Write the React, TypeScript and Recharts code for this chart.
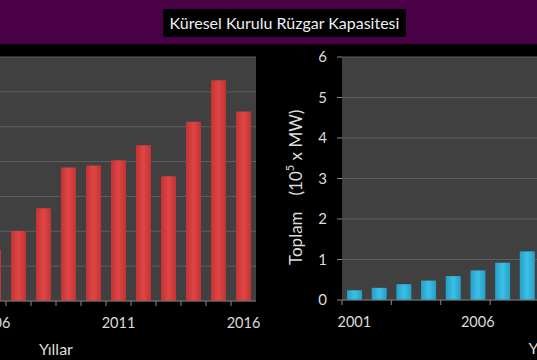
import { BarChart, Bar, XAxis, YAxis, CartesianGrid } from "recharts";

const years = [2001, 2002, 2003, 2004, 2005, 2006, 2007, 2008, 2009, 2010, 2011, 2012, 2013, 2014, 2015, 2016];
// yearly additions (GW) - left panel
const annualAdded = [6.5, 7.3, 8.1, 8.2, 11.5, 14.6, 20.1, 26.6, 38.3, 38.9, 40.4, 44.7, 35.8, 51.4, 63.3, 54.4];
// cumulative (10^5 MW) - right panel
const totalCapacity = [0.24, 0.3, 0.39, 0.48, 0.59, 0.73, 0.92, 1.2, 1.59, 1.98, 2.38, 2.83, 3.18, 3.7, 4.33, 4.87];
const leftTicks = [0, 10, 20, 30, 40, 50, 60, 70];
const rightTicks = [0, 1, 2, 3, 4, 5, 6];

const annualData = years.map((year, i) => ({ year, value: annualAdded[i] }));
const totalData = years.map((year, i) => ({ year, value: totalCapacity[i] }));

const FONT = "Lato, 'Open Sans', sans-serif";
const TEXT = "#dcdcdc";

function makeTick(band: number, everyOther: boolean) {
  return (props: any) => {
    const { x, y, payload, index } = props;
    const showLine = !everyOther || index % 2 === 0;
    return (
      <g>
        {showLine && (
          <line x1={x - band / 2} x2={x - band / 2} y1={y} y2={y + 5} stroke="#8a8a8a" />
        )}
        {payload.value % 5 === 1 && (
          <text x={x} y={y + 21} textAnchor="middle" dominantBaseline="central" fill={TEXT} fontSize={14.5} fontFamily={FONT}>
            {payload.value}
          </text>
        )}
      </g>
    );
  };
}

const YLabel = () => (
  <text
    transform="translate(25,221) rotate(-90)"
    textAnchor="start"
    dominantBaseline="central"
    fill={TEXT}
    fontSize={17}
    fontFamily={FONT}
  >
    Toplam
    <tspan dx={16}>(10</tspan>
    <tspan dy={-6} fontSize={11}>5</tspan>
    <tspan dy={6}> x MW)</tspan>
  </text>
);

export default function App() {
  return (
    <div
      style={{
        position: "fixed",
        left: 0,
        top: 0,
        width: 537,
        height: 360,
        overflow: "hidden",
        background: "#000",
        fontFamily: FONT,
      }}
    >
      <div style={{ position: "absolute", left: 0, top: 0, width: 537, height: 44, background: "#4a0046" }} />
      <div
        style={{
          position: "absolute",
          left: 163,
          top: 9,
          width: 243,
          height: 28,
          background: "#000",
          color: "#eee",
          fontSize: 16,
          lineHeight: "28px",
          textAlign: "center",
          whiteSpace: "nowrap",
        }}
      >
        Küresel Kurulu Rüzgar Kapasitesi
      </div>

      <div style={{ position: "absolute", left: -200, top: 44 }}>
        <BarChart width={470} height={316} data={annualData} margin={{ top: 13, right: 14, bottom: 3, left: 56 }}>
          <defs>
            <linearGradient id="redBar" x1="0" y1="0" x2="1" y2="0">
              <stop offset="0%" stopColor="#c23333" />
              <stop offset="50%" stopColor="#e04545" />
              <stop offset="100%" stopColor="#c23333" />
            </linearGradient>
          </defs>
          <CartesianGrid vertical={false} stroke="#5e5e5e" fill="#404040" />
          <XAxis
            dataKey="year"
            interval={0}
            height={56}
            tickSize={0}
            tickMargin={0}
            tickLine={false}
            axisLine={{ stroke: "#6a6a6a" }}
            tick={makeTick(25, false)}
            label={{ value: "Yıllar", position: "insideBottom", offset: 2, fill: TEXT, fontSize: 16, fontFamily: FONT }}
          />
          <YAxis hide domain={[0, 70]} ticks={leftTicks} />
          <Bar dataKey="value" fill="url(#redBar)" barSize={15} isAnimationActive={false} />
        </BarChart>
      </div>

      <div style={{ position: "absolute", left: 270, top: 44 }}>
        <BarChart width={475} height={316} data={totalData} margin={{ top: 13, right: 8, bottom: 4, left: 0 }}>
          <defs>
            <linearGradient id="blueBar" x1="0" y1="0" x2="1" y2="0">
              <stop offset="0%" stopColor="#259fc8" />
              <stop offset="50%" stopColor="#3cc0e6" />
              <stop offset="100%" stopColor="#259fc8" />
            </linearGradient>
          </defs>
          <CartesianGrid vertical={false} stroke="#5e5e5e" fill="#404040" />
          <XAxis
            dataKey="year"
            interval={0}
            height={56}
            tickSize={0}
            tickMargin={0}
            tickLine={false}
            axisLine={{ stroke: "#6a6a6a" }}
            tick={makeTick(24.7, true)}
            label={{ value: "Yıllar", position: "insideBottom", offset: 2, dx: 6, fill: TEXT, fontSize: 16, fontFamily: FONT }}
          />
          <YAxis
            width={72}
            domain={[0, 6]}
            ticks={rightTicks}
            axisLine={false}
            tickLine={{ stroke: "#8a8a8a" }}
            tickSize={5}
            tickMargin={10}
            tick={{ fill: TEXT, fontSize: 15, fontFamily: FONT }}
            label={{ content: () => <YLabel /> }}
          />
          <Bar dataKey="value" fill="url(#blueBar)" barSize={15} isAnimationActive={false} />
        </BarChart>
      </div>
    </div>
  );
}
